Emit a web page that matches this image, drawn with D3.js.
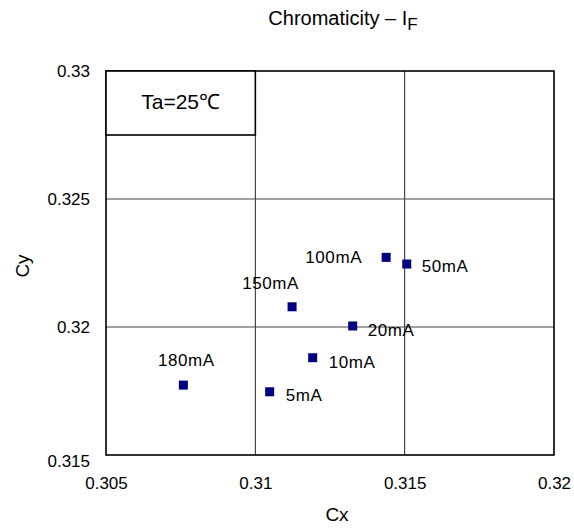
<!DOCTYPE html>
<html>
<head>
<meta charset="utf-8">
<script src="https://cdn.jsdelivr.net/npm/d3@7"></script>
<style>
  body { margin: 0; background: #fff; }
  text { font-family: "Liberation Sans", Arial, sans-serif; fill: #000; }
</style>
</head>
<body>
<div id="chart"></div>
<script>
// chromaticity points vs forward current
var currents = ['5mA', '10mA', '20mA', '50mA', '100mA', '150mA', '180mA'];
var cxValues = [0.31048, 0.31192, 0.31326, 0.31507, 0.31438, 0.31123, 0.30759];
var cyValues = [0.31747, 0.31880, 0.32004, 0.32246, 0.32272, 0.32079, 0.31773];
var xTicks = [0.305, 0.31, 0.315, 0.32];
var yTicks = [0.315, 0.32, 0.325, 0.33];

// where each label sits relative to its marker
var labelPos = [
  {dx: 16, dy: 3, anchor: 'start'},
  {dx: 16, dy: 4, anchor: 'start'},
  {dx: 15, dy: 4, anchor: 'start'},
  {dx: 15, dy: 2, anchor: 'start'},
  {dx: -24, dy: 0, anchor: 'end'},
  {dx: 7, dy: -24, anchor: 'end'},
  {dx: 3, dy: -25, anchor: 'middle'}
];

var W = 574, H = 528;
var m = {left: 106, right: 20, top: 71, bottom: 73};

var svg = d3.select('#chart').append('svg')
  .attr('width', W).attr('height', H);

var x = d3.scaleLinear().domain([0.305, 0.32]).range([m.left, W - m.right]);
var y = d3.scaleLinear().domain([0.315, 0.33]).range([H - m.bottom, m.top]);

var points = currents.map(function(c, i){
  return {label: c, cx: cxValues[i], cy: cyValues[i], pos: labelPos[i]};
});

// gridlines
svg.append('g')
  .selectAll('line.vg')
  .data(xTicks.slice(1, -1))
  .enter().append('line')
  .attr('x1', function(d){ return x(d); }).attr('x2', function(d){ return x(d); })
  .attr('y1', y(0.315)).attr('y2', y(0.33))
  .attr('stroke', '#222').attr('stroke-width', 1);

svg.append('g')
  .selectAll('line.hg')
  .data(yTicks.slice(1, -1))
  .enter().append('line')
  .attr('y1', function(d){ return y(d); }).attr('y2', function(d){ return y(d); })
  .attr('x1', x(0.305)).attr('x2', x(0.32))
  .attr('stroke', '#444').attr('stroke-width', 1);

// frame
svg.append('rect')
  .attr('x', x(0.305)).attr('y', y(0.33))
  .attr('width', x(0.32) - x(0.305)).attr('height', y(0.315) - y(0.33))
  .attr('fill', 'none').attr('stroke', '#000').attr('stroke-width', 1.6);

// axes (labels only)
var xAxis = svg.append('g')
  .attr('transform', 'translate(0,' + (H - m.bottom) + ')')
  .call(d3.axisBottom(x).tickValues(xTicks).tickSize(0).tickPadding(22)
    .tickFormat(function(d){ return String(+d.toFixed(3)); }));
xAxis.select('.domain').remove();
xAxis.selectAll('text').style('font-size', '17px').attr('fill', '#000');

var yAxis = svg.append('g')
  .attr('transform', 'translate(' + m.left + ',0)')
  .call(d3.axisLeft(y).tickValues(yTicks).tickSize(0).tickPadding(16)
    .tickFormat(function(d){ return String(+d.toFixed(3)); }));
yAxis.select('.domain').remove();
yAxis.selectAll('text').style('font-size', '17px').attr('fill', '#000')
  .attr('dy', function(d){ return d === 0.315 ? '0.7em' : '0.35em'; });

// axis titles
svg.append('text')
  .attr('x', 337).attr('y', 521)
  .attr('text-anchor', 'middle').style('font-size', '19px')
  .text('Cx');

svg.append('text')
  .attr('transform', 'translate(29,266) rotate(-90)')
  .attr('text-anchor', 'middle').style('font-size', '19px')
  .text('Cy');

// title
var title = svg.append('text')
  .attr('x', 343).attr('y', 25)
  .attr('text-anchor', 'middle').style('font-size', '20px');
title.append('tspan').text('Chromaticity \u2013 I');
title.append('tspan').attr('dy', 5).style('font-size', '17px').text('F');

// condition box
svg.append('rect')
  .attr('x', x(0.305)).attr('y', y(0.33))
  .attr('width', x(0.31) - x(0.305)).attr('height', 64)
  .attr('fill', '#fff').attr('stroke', '#000').attr('stroke-width', 1.6);
svg.append('text')
  .attr('x', (x(0.305) + x(0.31)) / 2).attr('y', y(0.33) + 38)
  .attr('text-anchor', 'middle').style('font-size', '21px')
  .text('Ta=25\u2103');

// markers
svg.append('g')
  .selectAll('rect')
  .data(points)
  .enter().append('rect')
  .attr('x', function(d){ return x(d.cx) - 4.5; })
  .attr('y', function(d){ return y(d.cy) - 4.5; })
  .attr('width', 9).attr('height', 9)
  .attr('fill', '#000080');

// point labels
svg.append('g')
  .selectAll('text')
  .data(points)
  .enter().append('text')
  .attr('x', function(d){ return x(d.cx) + d.pos.dx; })
  .attr('y', function(d){ return y(d.cy) + d.pos.dy; })
  .attr('dy', '0.35em')
  .attr('text-anchor', function(d){ return d.pos.anchor; })
  .style('font-size', '17px').style('letter-spacing', '0.6px')
  .text(function(d){ return d.label; });
</script>
</body>
</html>
